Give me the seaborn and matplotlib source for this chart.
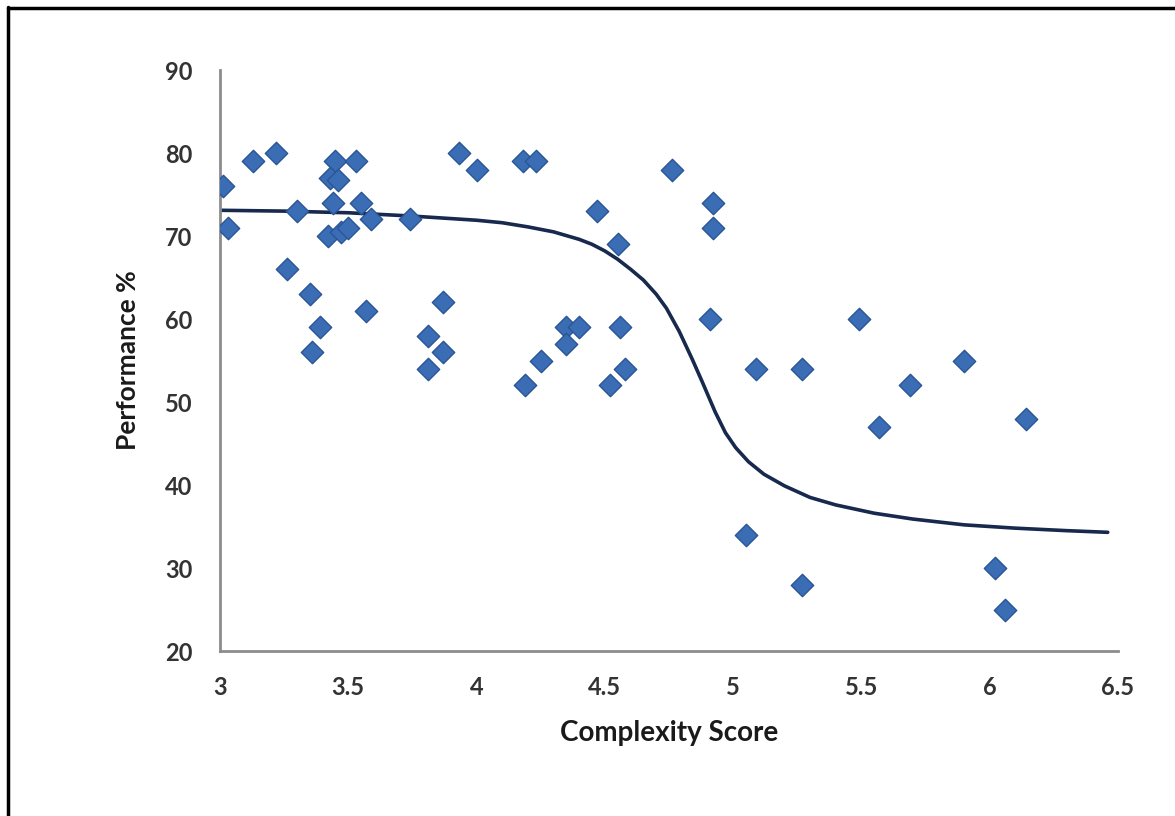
import matplotlib
matplotlib.use("Agg")
import matplotlib.pyplot as plt
import seaborn as sns
import pandas as pd
from matplotlib.lines import Line2D

sns.set_theme(style="white")
plt.rcParams['font.family'] = ['Lato', 'DejaVu Sans']

# scatter points
complexity = [3.01, 3.03, 3.13, 3.22, 3.30, 3.26, 3.35, 3.39, 3.36,
              3.45, 3.43, 3.46, 3.44, 3.53, 3.55, 3.59, 3.42, 3.47, 3.50,
              3.57, 3.74, 3.81, 3.81, 3.87, 3.87, 3.93, 4.00,
              4.18, 4.23, 4.19, 4.25, 4.35, 4.40, 4.35,
              4.47, 4.52, 4.55, 4.56, 4.58, 4.76, 4.92, 4.92, 4.91,
              5.09, 5.05, 5.27, 5.27, 5.49, 5.57, 5.69, 5.90,
              6.02, 6.06, 6.14]
performance = [76, 71, 79, 80, 73, 66, 63, 59, 56,
               79, 77, 76.7, 74, 79, 74, 72, 70, 70.5, 71,
               61, 72, 58, 54, 62, 56, 80, 78,
               79, 79, 52, 55, 59, 59, 57,
               73, 52, 69, 59, 54, 78, 74, 71, 60,
               54, 34, 54, 28, 60, 47, 52, 55,
               30, 25, 48]

# fitted curve
fit_x = [3.0, 3.25, 3.5, 3.75, 4.0, 4.1, 4.2, 4.3, 4.4, 4.45, 4.5, 4.55, 4.6,
         4.65, 4.7, 4.74, 4.79, 4.84, 4.88, 4.93, 4.97, 5.01, 5.06, 5.12, 5.2,
         5.3, 5.4, 5.55, 5.7, 5.9, 6.1, 6.3, 6.46]
fit_y = [73.1, 73.0, 72.8, 72.4, 71.9, 71.6, 71.1, 70.5, 69.6, 69.0, 68.2, 67.2,
         66.0, 64.7, 63.0, 61.3, 58.5, 55.2, 52.4, 48.8, 46.3, 44.5, 42.8, 41.3,
         39.9, 38.5, 37.6, 36.6, 35.9, 35.2, 34.8, 34.5, 34.3]

xticks = [3, 3.5, 4, 4.5, 5, 5.5, 6, 6.5]
xtick_labels = ["3", "3.5", "4", "4.5", "5", "5.5", "6", "6.5"]
yticks = [20, 30, 40, 50, 60, 70, 80, 90]

pts = pd.DataFrame({"Complexity Score": complexity, "Performance %": performance})
fit = pd.DataFrame({"x": fit_x, "y": fit_y})

fig = plt.figure(figsize=(11.75, 8.16), dpi=100)
ax = fig.add_axes([0.1872, 0.2022, 0.9515 - 0.1872, 0.9142 - 0.2022])

sns.lineplot(data=fit, x="x", y="y", ax=ax, color="#17294d", linewidth=2.6,
             sort=False, zorder=2)
sns.scatterplot(data=pts, x="Complexity Score", y="Performance %", ax=ax,
                marker="D", s=130, color="#3b6db5", edgecolor="#2a5597",
                linewidth=1, zorder=3)

ax.set_xlim(3, 6.5)
ax.set_ylim(20, 90)
ax.set_xticks(xticks)
ax.set_xticklabels(xtick_labels)
ax.set_yticks(yticks)

for s in ["top", "right"]:
    ax.spines[s].set_visible(False)
for s in ["left", "bottom"]:
    ax.spines[s].set_color("#8c8c8c")
    ax.spines[s].set_linewidth(2)
    ax.spines[s].set_clip_on(False)

ax.tick_params(axis="both", which="major", direction="out", length=5, width=1.5,
               color="#8c8c8c", labelsize=17, labelcolor="#333333")
ax.tick_params(axis="y", pad=15)
ax.tick_params(axis="x", pad=13)
for lab in ax.get_xticklabels() + ax.get_yticklabels():
    lab.set_fontweight("bold")

ax.set_xlabel("Complexity Score", fontsize=20, fontweight="bold", color="#1a1a1a",
              labelpad=15)
ax.set_ylabel("Performance %", fontsize=19, fontweight="bold", color="#1a1a1a",
              labelpad=18)

# frame lines at top and left of the picture
fig.add_artist(Line2D([0.0068, 0.0068], [0, 1 - 7 / 816], color="black", lw=2.5,
                      transform=fig.transFigure))
fig.add_artist(Line2D([0.0068, 1], [1 - 8 / 816, 1 - 8 / 816], color="black", lw=2.5,
                      transform=fig.transFigure))

fig.savefig("out.png", dpi=100)
